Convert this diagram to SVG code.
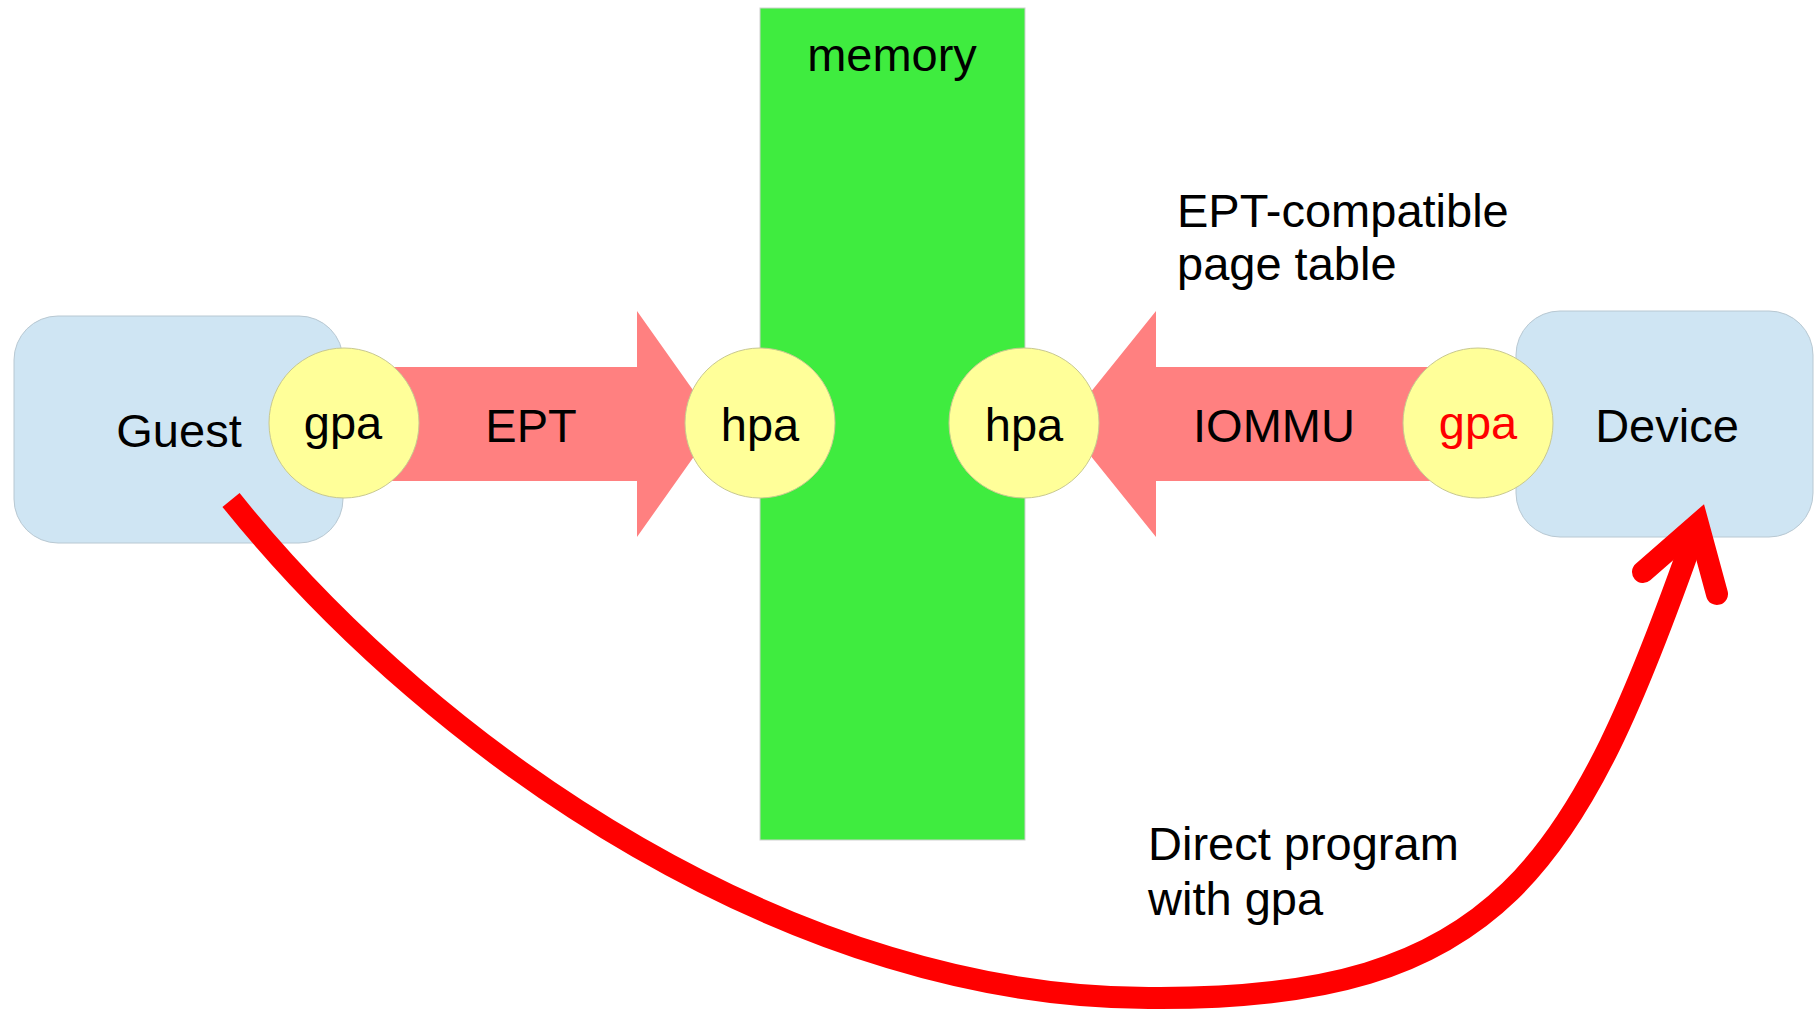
<svg xmlns="http://www.w3.org/2000/svg" width="1814" height="1010" viewBox="0 0 1814 1010">
<style>
.box{fill:#CFE5F3;stroke:#B8C8D2;stroke-width:1}
.mem{fill:#3FEC3F;stroke:#D0D0D0;stroke-width:1}
.bar{fill:#FF8080}
.addr{fill:#FFFF99;stroke:#C8C890;stroke-width:1}
text{font-family:"Liberation Sans",Arial,sans-serif;font-size:47px;fill:#000}
.mid{text-anchor:middle}
.prog{fill:none;stroke:#FF0000;stroke-width:22}
</style>
<rect width="1814" height="1010" fill="#FFFFFF"/>
<g id="memory">
<rect class="mem" x="760" y="8" width="265" height="832"/>
<text class="mid" x="892" y="71">memory</text>
</g>
<g id="guest">
<rect class="box" x="14" y="316" width="329" height="227" rx="44"/>
<text class="mid" x="179" y="447">Guest</text>
</g>
<g id="device">
<rect class="box" x="1516" y="311" width="297" height="226" rx="44"/>
<text class="mid" x="1667" y="442">Device</text>
</g>
<g id="ept">
<polygon class="bar" points="344,367 637,367 637,311 717,424 637,537 637,481 344,481"/>
<text class="mid" x="531" y="442">EPT</text>
</g>
<g id="iommu">
<polygon class="bar" points="1478,367 1156,367 1156,311 1065,424 1156,537 1156,481 1478,481"/>
<text class="mid" x="1274" y="442">IOMMU</text>
</g>
<g id="gpa-guest">
<circle class="addr" cx="344" cy="423" r="75"/>
<text class="mid" x="343" y="439">gpa</text>
</g>
<g id="hpa-left">
<circle class="addr" cx="760" cy="423" r="75"/>
<text class="mid" x="760" y="441">hpa</text>
</g>
<g id="hpa-right">
<circle class="addr" cx="1024" cy="423" r="75"/>
<text class="mid" x="1024" y="441">hpa</text>
</g>
<g id="gpa-device">
<circle class="addr" cx="1478" cy="423" r="75"/>
<text class="mid" x="1478" y="439" style="fill:#FF0000">gpa</text>
</g>
<g id="label-page-table">
<text x="1177" y="227">EPT-compatible</text>
<text x="1177" y="280">page table</text>
</g>
<g id="label-direct">
<text x="1148" y="860">Direct program</text>
<text x="1148" y="915">with gpa</text>
</g>
<g id="connectors">
<path class="prog" d="M231,500 C440,760 800,1000 1153,998 C1500,1000 1577,868 1697,526"/>
<path class="prog" d="M1643,572 L1698,524 L1717,594" stroke-linecap="round" stroke-linejoin="miter" stroke-miterlimit="10"/>
</g>
</svg>
